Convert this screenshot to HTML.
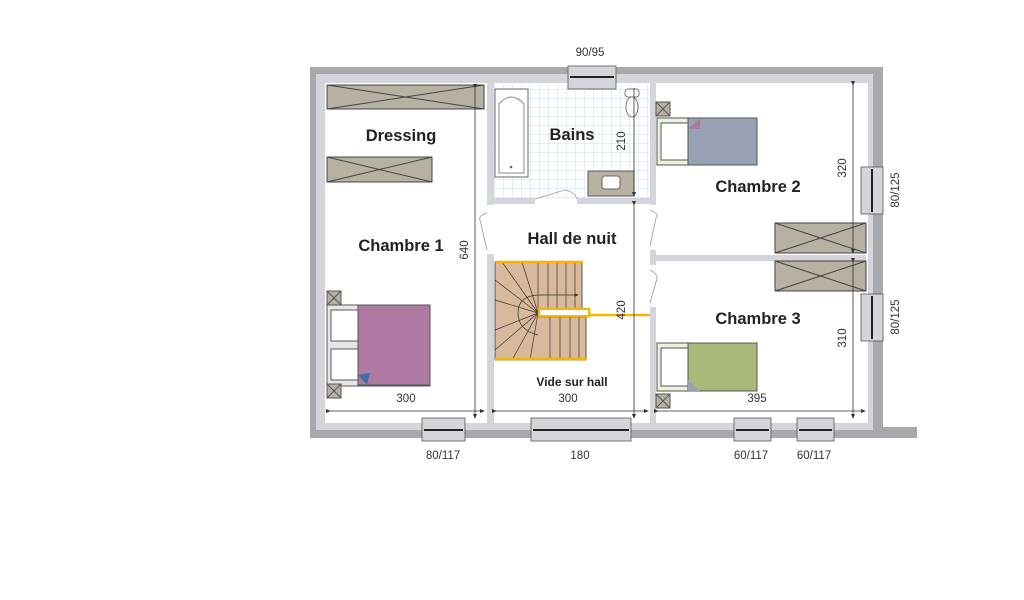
<!DOCTYPE html>
<html><head><meta charset="utf-8"><style>
html,body{margin:0;padding:0;background:#fff;width:1024px;height:600px;overflow:hidden}
svg{display:block}
text{font-family:"Liberation Sans","DejaVu Sans",sans-serif;fill:#222}
.lbl{font-weight:bold;font-size:16.5px;text-anchor:middle}
.dim{font-size:11.5px;text-anchor:middle;fill:#333}
</style></head><body>
<svg width="1024" height="600" viewBox="0 0 1024 600" xmlns="http://www.w3.org/2000/svg">
<defs>
<pattern id="tile" width="9" height="9" patternUnits="userSpaceOnUse"><path d="M9 0V9H0" fill="none" stroke="#bfe0f2" stroke-width="1"/></pattern>
<marker id="ar" markerWidth="6" markerHeight="6" refX="5" refY="3" orient="auto"><path d="M0,0.5L6,3L0,5.5z" fill="#333"/></marker>
</defs>
<!-- outer walls -->
<rect x="310" y="67" width="573" height="371" fill="#a7a9ac"/>
<rect x="877" y="427" width="40" height="11" fill="#a7a9ac"/>
<rect x="316" y="74" width="557" height="356" fill="#d4d5da"/>
<rect x="325" y="83" width="543" height="340" fill="#fff"/>
<!-- bathroom tiles -->
<rect x="493" y="84" width="157" height="114" fill="url(#tile)"/>
<!-- interior walls -->
<g fill="#d4d5da">
<rect x="487" y="83" width="7" height="122"/>
<rect x="487" y="254" width="7" height="169"/>
<rect x="493" y="198" width="42" height="6"/>
<rect x="577" y="198" width="73" height="6"/>
<rect x="650" y="83" width="6" height="122"/>
<rect x="650" y="250" width="6" height="15"/>
<rect x="650" y="307" width="6" height="116"/>
<rect x="656" y="255" width="210" height="6"/>
</g>
<!-- doors -->
<g fill="none" stroke="#999" stroke-width="0.8">
<path d="M487 213 Q478 216 480 220 L487 250"/>
<path d="M650 210 Q660 214 656 218 L650 246"/>
<path d="M650 270 Q660 275 656 282 L650 303"/>
<path d="M535 199 L565 190 Q575 192 577 199"/>
</g>
<!-- wardrobes -->
<g stroke="#444" stroke-width="1">
<rect x="327" y="85" width="157" height="24" fill="#b7b1a2"/>
<path d="M327 85L484 109M327 109L484 85" fill="none"/>
<rect x="327" y="157" width="105" height="25" fill="#b7b1a2"/>
<path d="M327 157L432 182M327 182L432 157" fill="none"/>
<rect x="775" y="223" width="91" height="30" fill="#b7b1a2"/>
<path d="M775 223L866 253M775 253L866 223" fill="none"/>
<rect x="775" y="261" width="91" height="30" fill="#b7b1a2"/>
<path d="M775 261L866 291M775 291L866 261" fill="none"/>
</g>
<!-- bathtub, toilet, sink -->
<rect x="495" y="89" width="33" height="88" fill="#fff" stroke="#666"/>
<path d="M499 173V104Q511 90 524 104V173Z" fill="#fff" stroke="#888"/>
<circle cx="511" cy="167" r="1.3" fill="#666"/>
<rect x="625" y="89" width="14" height="8" rx="3" fill="#fff" stroke="#777"/>
<ellipse cx="632" cy="107" rx="6" ry="10" fill="#fff" stroke="#777"/>
<rect x="588" y="171" width="46" height="25" fill="#b7b1a2" stroke="#555"/>
<rect x="602" y="176" width="18" height="13" rx="3" fill="#fff" stroke="#666"/>
<!-- beds -->
<rect x="327" y="305" width="103" height="81" fill="#e6e6e6" stroke="#555"/>
<rect x="331" y="310" width="27" height="31" fill="#fff" stroke="#555"/>
<rect x="331" y="349" width="27" height="31" fill="#fff" stroke="#555"/>
<rect x="358" y="305" width="72" height="80" fill="#ae7aa3" stroke="#555"/>
<path d="M358 375L370 373L367 385Z" fill="#3d6fa8"/>
<rect x="657" y="118" width="100" height="47" fill="#eaf1dd" stroke="#555"/>
<rect x="661" y="123" width="27" height="37" fill="#fff" stroke="#555"/>
<rect x="688" y="118" width="69" height="47" fill="#98a2b3" stroke="#555"/>
<path d="M688 129L700 118V129Z" fill="#ae7aa3"/>
<rect x="657" y="343" width="100" height="48" fill="#eaf1dd" stroke="#555"/>
<rect x="661" y="348" width="27" height="38" fill="#fff" stroke="#555"/>
<rect x="688" y="343" width="69" height="48" fill="#aab87a" stroke="#555"/>
<path d="M688 380L700 391H688Z" fill="#98a2b3"/>
<!-- nightstands -->
<g fill="#b7b1a2" stroke="#555">
<rect x="327" y="291" width="14" height="14"/><path d="M327 291l14 14M341 291l-14 14" fill="none"/>
<rect x="327" y="384" width="14" height="14"/><path d="M327 384l14 14M341 384l-14 14" fill="none"/>
<rect x="656" y="102" width="14" height="14"/><path d="M656 102l14 14M670 102l-14 14" fill="none"/>
<rect x="656" y="394" width="14" height="14"/><path d="M656 394l14 14M670 394l-14 14" fill="none"/>
</g>
<!-- stairs -->
<path d="M495 262H582V310H538V317H586V360H495Z" fill="#d9b99b" stroke="#333" stroke-width="0.8"/>
<g stroke="#333" stroke-width="0.7" fill="none">
<path d="M538 310V262M548 310V262M557 310V262M566 310V262M575 310V262"/>
<path d="M550 317V360M560 317V360M570 317V360M579 317V360"/>
<path d="M538 313L495 280M538 313L502 262M538 313L522 262M538 313L495 300M538 313L495 330M538 313L495 350M538 313L512 360M538 313L530 360"/>
<path d="M538 295Q518 296 518 313Q518 330 538 335"/>
<path d="M538 295H578" marker-end="url(#ar)"/>
</g>
<g stroke="#f7b500" stroke-width="2.5" fill="none">
<path d="M495 262H583M495 359H587"/>
<rect x="539" y="309" width="50" height="7"/>
<path d="M589 315H650"/>
</g>
<rect x="540" y="310" width="48" height="5" fill="#fff"/>
<!-- dimension lines -->
<g stroke="#333" stroke-width="0.8" fill="none">
<path d="M475 88V418" marker-start="url(#ar)" marker-end="url(#ar)"/>
<path d="M634 88V196" marker-end="url(#ar)"/>
<path d="M634 205V418" marker-start="url(#ar)" marker-end="url(#ar)"/>
<path d="M853 85V253" marker-start="url(#ar)" marker-end="url(#ar)"/>
<path d="M853 262V418" marker-start="url(#ar)" marker-end="url(#ar)"/>
<path d="M330 411H484" marker-start="url(#ar)" marker-end="url(#ar)"/>
<path d="M496 411H648" marker-start="url(#ar)" marker-end="url(#ar)"/>
<path d="M658 411H865" marker-start="url(#ar)" marker-end="url(#ar)"/>
</g>
<!-- windows -->
<g fill="#d4d5da" stroke="#555" stroke-width="0.8">
<rect x="568" y="66" width="48" height="23"/>
<rect x="422" y="418" width="43" height="23"/>
<rect x="531" y="418" width="100" height="23"/>
<rect x="734" y="418" width="37" height="23"/>
<rect x="797" y="418" width="37" height="23"/>
<rect x="861" y="167" width="22" height="47"/>
<rect x="861" y="294" width="22" height="47"/>
</g>
<g stroke="#222" stroke-width="2">
<path d="M570 77H614M424 430H463M533 430H629M736 430H769M799 430H832M872 169V212M872 296V339"/>
</g>
<!-- labels -->
<text class="lbl" x="401" y="141">Dressing</text>
<text class="lbl" x="572" y="140">Bains</text>
<text class="lbl" x="401" y="251">Chambre 1</text>
<text class="lbl" x="572" y="244">Hall de nuit</text>
<text class="lbl" x="758" y="192">Chambre 2</text>
<text class="lbl" x="758" y="324">Chambre 3</text>
<text x="572" y="386" style="font-weight:bold;font-size:12px;text-anchor:middle">Vide sur hall</text>
<text class="dim" x="406" y="402">300</text>
<text class="dim" x="568" y="402">300</text>
<text class="dim" x="757" y="402">395</text>
<text class="dim" x="590" y="56">90/95</text>
<text class="dim" x="443" y="459">80/117</text>
<text class="dim" x="580" y="459">180</text>
<text class="dim" x="751" y="459">60/117</text>
<text class="dim" x="814" y="459">60/117</text>
<text class="dim" transform="translate(468,250) rotate(-90)">640</text>
<text class="dim" transform="translate(625,141) rotate(-90)">210</text>
<text class="dim" transform="translate(625,310) rotate(-90)">420</text>
<text class="dim" transform="translate(846,168) rotate(-90)">320</text>
<text class="dim" transform="translate(846,338) rotate(-90)">310</text>
<text class="dim" transform="translate(899,190) rotate(-90)">80/125</text>
<text class="dim" transform="translate(899,317) rotate(-90)">80/125</text>
</svg>
</body></html>
